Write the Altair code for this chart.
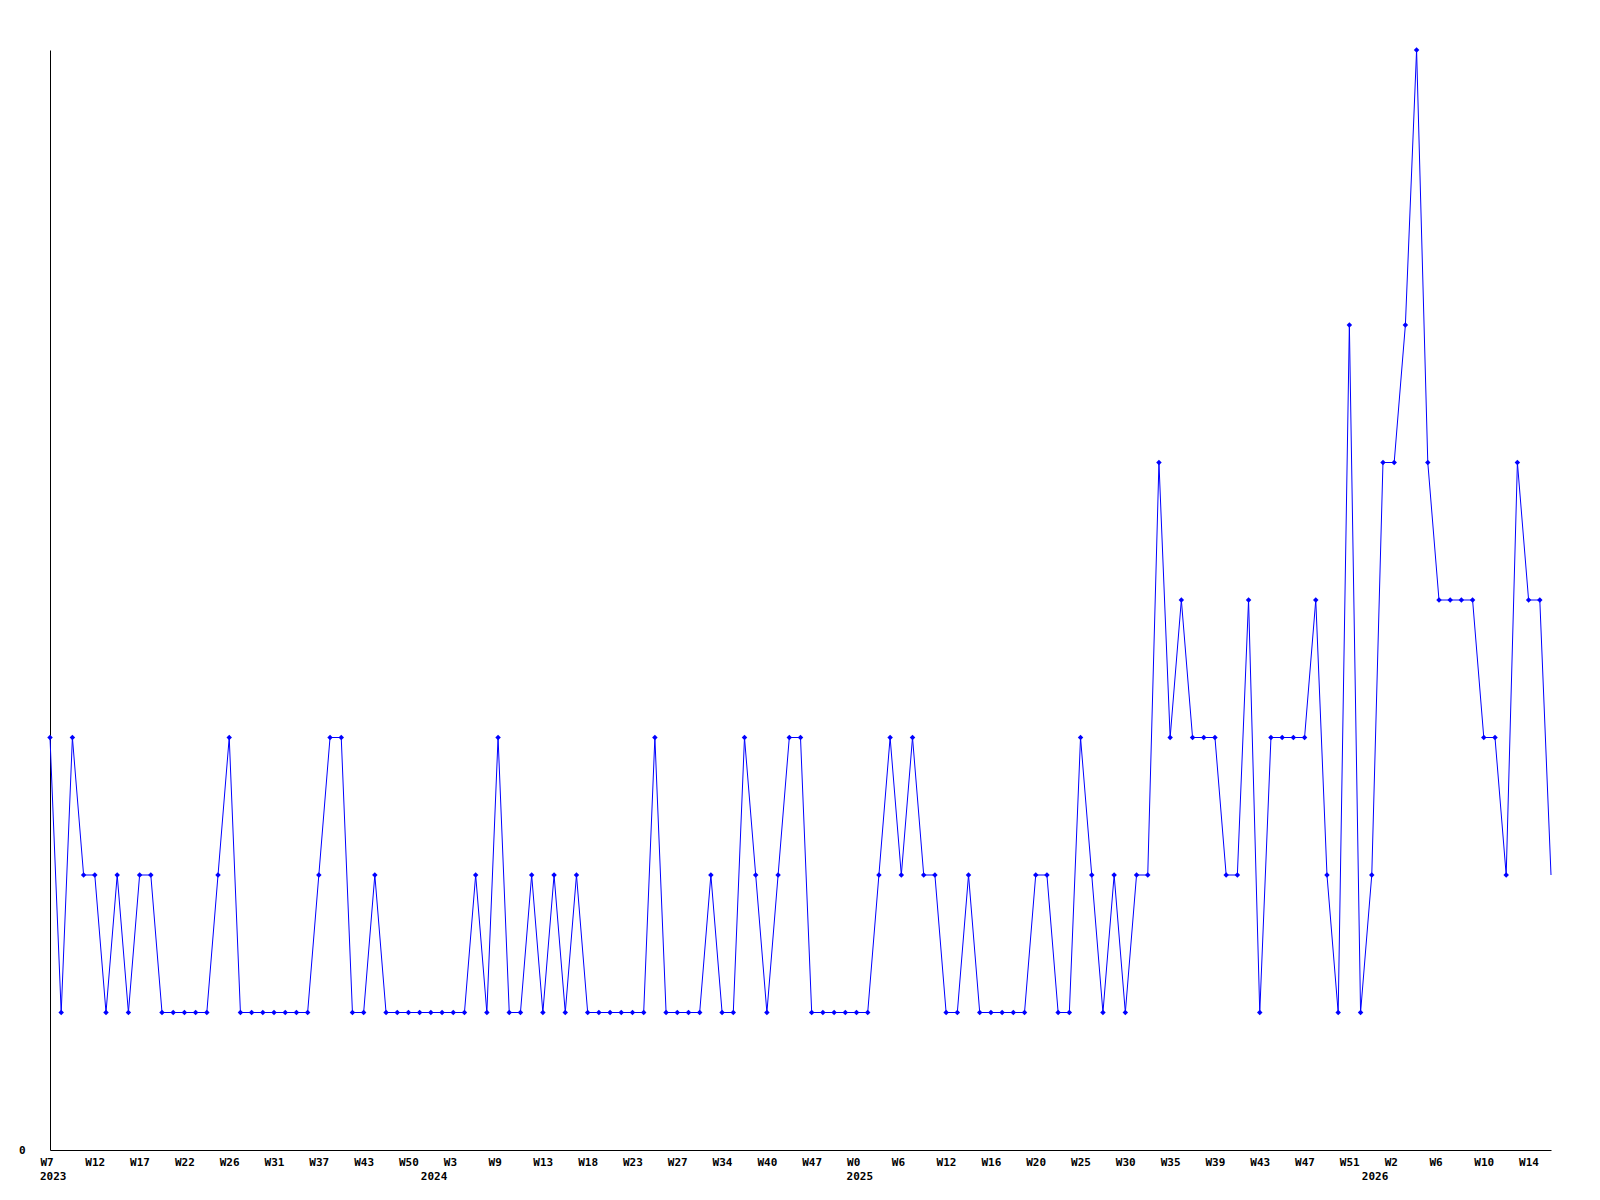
import altair as alt
import pandas as pd

# Weekly counts (one point per reported week, in order)
values = [3, 1, 3, 2, 2, 1, 2, 1, 2, 2,
          1, 1, 1, 1, 1, 2, 3, 1, 1, 1,
          1, 1, 1, 1, 2, 3, 3, 1, 1, 2,
          1, 1, 1, 1, 1, 1, 1, 1, 2, 1,
          3, 1, 1, 2, 1, 2, 1, 2, 1, 1,
          1, 1, 1, 1, 3, 1, 1, 1, 1, 2,
          1, 1, 3, 2, 1, 2, 3, 3, 1, 1,
          1, 1, 1, 1, 2, 3, 2, 3, 2, 2,
          1, 1, 2, 1, 1, 1, 1, 1, 2, 2,
          1, 1, 3, 2, 1, 2, 1, 2, 2, 5,
          3, 4, 3, 3, 3, 2, 2, 4, 1, 3,
          3, 3, 3, 4, 2, 1, 6, 1, 2, 5,
          5, 6, 8, 5, 4, 4, 4, 4, 3, 3,
          2, 5, 4, 4, 2]

# Tick labels, shown at every 4th point
tick_labels = ["W7", "W12", "W17", "W22", "W26", "W31", "W37", "W43", "W50",
               "W3", "W9", "W13", "W18", "W23", "W27", "W34", "W40", "W47",
               "W0", "W6", "W12", "W16", "W20", "W25", "W30", "W35", "W39",
               "W43", "W47", "W51", "W2", "W6", "W10", "W14"]

# Year labels and the point where each year starts
years = ["2023", "2024", "2025", "2026"]
year_start_point = [0, 34, 72, 118]

n = len(values)
df = pd.DataFrame({"idx": list(range(n)), "value": values})
df_pts = df[df["idx"] < n - 1]
df_years = pd.DataFrame({"idx": year_start_point, "year": years})

tick_step = 4
tick_values = [i * tick_step for i in range(len(tick_labels))]
label_array = "[" + ",".join("'" + t + "'" for t in tick_labels) + "]"

FONT = "DejaVu Sans Mono"
BLUE = "#0000FF"

x_scale = alt.Scale(domain=[0, n - 1], nice=False, zero=False)
y_scale = alt.Scale(domain=[0, 8], nice=False, zero=True)

x_enc = alt.X(
    "idx:Q",
    scale=x_scale,
    axis=alt.Axis(
        values=tick_values,
        labelExpr=label_array + "[round(datum.value / " + str(tick_step) + ")]",
        title=None,
        grid=False,
        ticks=False,
        domainColor="black",
        domainWidth=1,
        labelFont=FONT,
        labelFontWeight="bold",
        labelFontSize=11,
        labelColor="black",
        labelAlign="left",
        labelOffset=-10,
        labelPadding=6,
        labelFlush=False,
        labelOverlap=False,
    ),
)
y_enc = alt.Y(
    "value:Q",
    scale=y_scale,
    axis=alt.Axis(
        values=[0],
        format="d",
        title=None,
        grid=False,
        ticks=False,
        domainColor="black",
        domainWidth=1,
        labelFont=FONT,
        labelFontWeight="bold",
        labelFontSize=11,
        labelColor="black",
        labelPadding=25,
    ),
)

line = alt.Chart(df).mark_line(color=BLUE, strokeWidth=1, interpolate="linear").encode(
    x=x_enc, y=y_enc
)

pts = alt.Chart(df_pts).mark_point(
    shape="diamond", filled=True, color=BLUE, size=30, opacity=1
).encode(x=alt.X("idx:Q", scale=x_scale), y=alt.Y("value:Q", scale=y_scale))

year_text = alt.Chart(df_years).mark_text(
    font=FONT, fontWeight="bold", fontSize=11, color="black",
    align="left", baseline="top", dx=-10, dy=21,
).encode(
    x=alt.X("idx:Q", scale=x_scale),
    y=alt.datum(0, scale=y_scale),
    text="year:N",
)

chart = alt.layer(line, pts, year_text).properties(
    width=1501,
    height=1100,
    autosize=alt.AutoSizeParams(type="none"),
    padding={"left": 42, "top": 42, "right": 40, "bottom": 40},
    background="white",
).configure_view(stroke=None, strokeWidth=0)

chart.save("out.html", embed_options={"renderer": "svg", "actions": False})
